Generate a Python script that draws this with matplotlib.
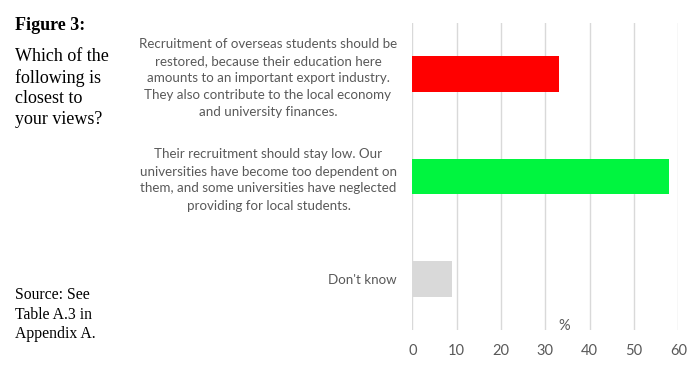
import matplotlib.pyplot as plt

# Data
categories = [
    "Recruitment of overseas students should be\nrestored, because their education here\n"
    "amounts to an important export industry.\nThey also contribute to the local economy\n"
    "and university finances.",
    "Their recruitment should stay low. Our\nuniversities have become too dependent on\n"
    "them, and some universities have neglected\nproviding for local students.",
    "Don't know",
]
values = [33, 58, 9]
bar_colors = ["#ff0000", "#00f53f", "#d9d9d9"]
x_ticks = [0, 10, 20, 30, 40, 50, 60]

W, H = 699, 370
fig = plt.figure(figsize=(W / 100, H / 100), dpi=100)
ax = fig.add_axes([412.3 / W, 40 / H, 266 / W, 307 / H])

sans = ["Lato", "DejaVu Sans"]
pos = list(range(len(categories)))
ax.barh(pos, values, height=0.35, color=bar_colors, zorder=3)
ax.set_ylim(2.5, -0.5)
ax.set_xlim(0, 60)
ax.set_xticks(x_ticks)
ax.set_yticks(pos)
ax.set_yticklabels(categories, fontsize=9.6, color="#595959",
                   family=sans, multialignment="center", linespacing=1.5)
ax.set_xticklabels([str(t) for t in x_ticks], fontsize=10.5, color="#595959",
                   family=sans)
ax.tick_params(axis="x", length=0, pad=10)
ax.tick_params(axis="y", length=0, pad=11)
ax.grid(axis="x", color="#d9d9d9", linewidth=1, zorder=0)
for s in ax.spines.values():
    s.set_visible(False)

fig.text(564 / W, 1 - 326 / H, "%", ha="center", va="center", fontsize=10.5,
         color="#595959", family=sans)

serif = "Liberation Serif"
fig.text(15 / W, 1 - 25 / H, "Figure 3:", fontsize=13, fontweight="bold",
         family=serif, va="center", ha="left")
fig.text(15 / W, 1 - 48 / H, "Which of the\nfollowing is\nclosest to\nyour views?",
         fontsize=13, family=serif, va="top", ha="left", linespacing=1.27)
fig.text(15 / W, 1 - 287 / H, "Source: See\nTable A.3 in\nAppendix A.",
         fontsize=11.3, family=serif, va="top", ha="left", linespacing=1.3)

fig.savefig("out.png", dpi=100)
